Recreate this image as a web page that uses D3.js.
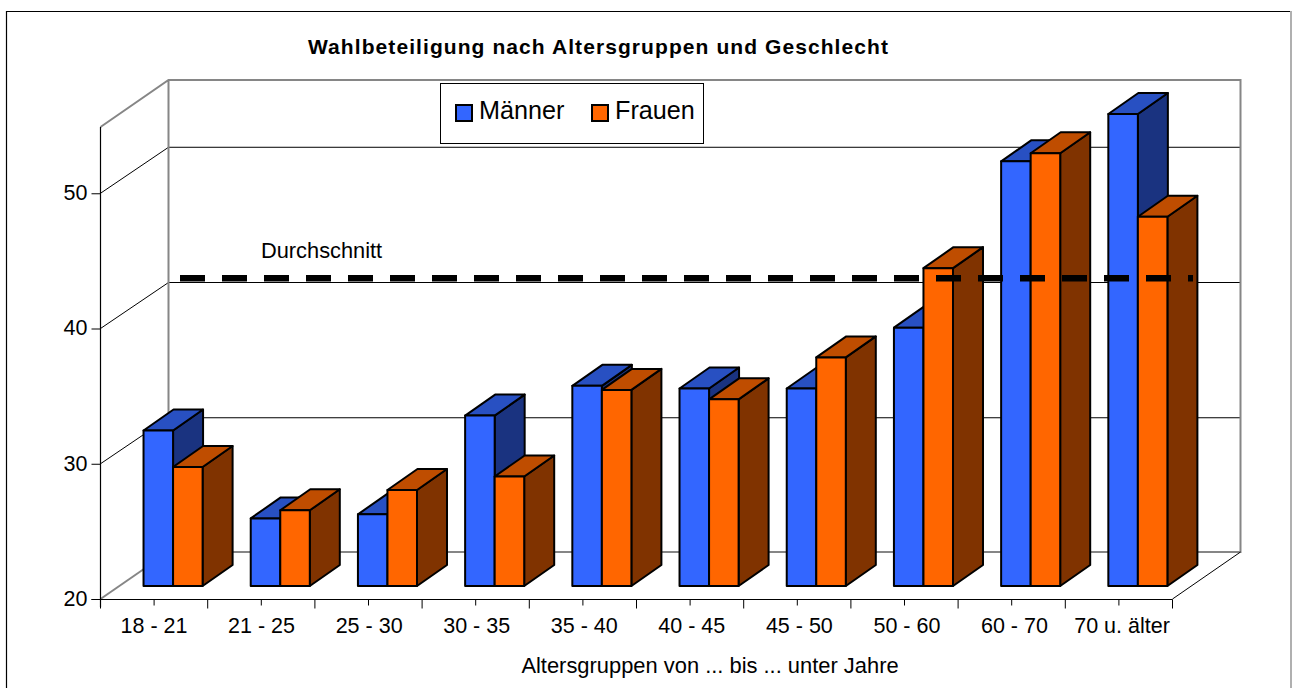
<!DOCTYPE html>
<html><head><meta charset="utf-8">
<script src="https://cdn.jsdelivr.net/npm/d3@7"></script>
<style>html,body{margin:0;padding:0;background:#fff}svg{display:block}text{font-family:"Liberation Sans",Arial,sans-serif;fill:#000}</style>
</head><body><svg id="c" width="1292" height="688"></svg>
<script>
const categories=["18 - 21","21 - 25","25 - 30","30 - 35","35 - 40","40 - 45","45 - 50","50 - 60","60 - 70","70 u. älter"];
const maenner=[31.5,25.0,25.3,32.6,34.8,34.6,34.6,39.1,51.4,54.9];
const frauen=[28.8,25.6,27.1,28.1,34.5,33.8,36.9,43.5,52.0,47.3];
const durchschnitt=[42.75,42.75,42.75,42.75,42.75,42.75,42.75,42.75,42.75,42.75];
const seriesNames=["Männer","Frauen"];
const yTicks=[20,30,40,50];

const svg=d3.select("#c");
const x0=100.5,x1=1172.5,yB=599,yT=127,wallDx=68,wallDy=-47,gridDy=-46;
const barPlaneDy=-13,barDx=30,barDy=-21;
const palette=[{face:"#3366FF",top:"#2850C2",side:"#1A3380"},{face:"#FF6600",top:"#BF4D00",side:"#803300"}];
const y=d3.scaleLinear().domain([20,54.9]).range([yB,yT]);
const xAxisScale=d3.scaleBand().domain(categories).range([x0,x1]);
const xLabel=d3.scalePoint().domain(categories).range([154,1122]);
const xGroup=d3.scaleBand().domain(categories).range([x0,x1]).paddingInner(0.449).paddingOuter(0.2245).align(0.894);
const xSeries=d3.scaleBand().domain(seriesNames).range([0,xGroup.bandwidth()]);
const xLine=d3.scalePoint().domain(categories).range([180,1193]);

// frame
svg.append("path").attr("d","M6.5,688V11.5H1291").attr("fill","none").attr("stroke","#000").attr("stroke-width",1.2);
svg.append("line").attr("x1",1291).attr("x2",1291).attr("y1",11).attr("y2",688).attr("stroke","#b0b0b0").attr("stroke-width",2);

// title
svg.append("text").attr("x",598.5).attr("y",54).attr("text-anchor","middle").attr("font-weight","bold").attr("font-size",21).attr("letter-spacing",1.08).text("Wahlbeteiligung nach Altersgruppen und Geschlecht");

// walls
const gray="#868686";
const wall=svg.append("g");
yTicks.filter(v=>v>20).forEach(v=>{
  wall.append("path").attr("d",`M${x0},${y(v)}L${x0+wallDx},${y(v)+gridDy}H${x1+wallDx}`).attr("fill","none").attr("stroke","#000").attr("stroke-width",1);
});
wall.append("path").attr("d",`M${x0},${yT}L${x0+wallDx},${yT+wallDy}H${x1+wallDx}V${yB+wallDy}H${x0+wallDx}V${yT+wallDy}`).attr("fill","none").attr("stroke",gray).attr("stroke-width",2);
wall.append("line").attr("x1",x0).attr("y1",yB).attr("x2",x0+wallDx).attr("y2",yB+wallDy).attr("stroke",gray).attr("stroke-width",2);
wall.append("line").attr("x1",x1).attr("y1",yB).attr("x2",x1+wallDx).attr("y2",yB+wallDy).attr("stroke","#000").attr("stroke-width",1);

// axes
const axL=svg.append("g").attr("transform",`translate(${x0},0)`).call(d3.axisLeft(y).tickValues(yTicks).tickSize(9).tickPadding(4).tickFormat(d3.format("d")));
axL.select(".domain").attr("stroke","#000").attr("stroke-width",1.2).attr("d",`M0,${yT}V${yB+8}`);
axL.selectAll("text").attr("font-size",21.5).style("font-family",'"Liberation Sans"').attr("dy","0.3em");
const axB=svg.append("g").attr("transform",`translate(0,${yB+0.5})`).call(d3.axisBottom(xAxisScale).tickSize(6).tickPadding(12.5));
axB.select(".domain").attr("stroke","#000").attr("stroke-width",1.2).attr("d",`M${x0-9},0H${x1}`);
axB.selectAll("text").attr("font-size",21.5).style("font-family",'"Liberation Sans"').attr("dy","0.71em")
  .attr("x",d=>xLabel(d)-(xAxisScale(d)+xAxisScale.bandwidth()/2));
const edges=xAxisScale.domain().map(c=>xAxisScale(c)+xAxisScale.bandwidth()).concat([x0]);
axB.selectAll(".edge").data(edges).join("line").attr("class","edge").attr("x1",d=>d).attr("x2",d=>d).attr("y1",0).attr("y2",9).attr("stroke","#000");

// bars
const rows=categories.map((c,i)=>({c,vals:[maenner[i],frauen[i]]}));
const groups=svg.selectAll("g.grp").data(rows).join("g").attr("class","grp");
groups.each(function(r){
  const g=d3.select(this);
  r.vals.forEach((v,k)=>{
    const p=palette[k];
    const l=xGroup(r.c)+xSeries(seriesNames[k]),w=xSeries.bandwidth();
    const b=y(20)+barPlaneDy,t=y(v)+barPlaneDy,rr=l+w;
    const st={stroke:"#000","stroke-width":2,"stroke-linejoin":"round"};
    const add=(d,f)=>{const e=g.append("path").attr("d",d).attr("fill",f);Object.entries(st).forEach(([a,b])=>e.attr(a,b));};
    add(`M${rr},${t}l${barDx},${barDy}V${b+barDy}L${rr},${b}Z`,p.side);
    add(`M${l},${t}l${barDx},${barDy}H${rr+barDx}L${rr},${t}Z`,p.top);
    add(`M${l},${t}H${rr}V${b}H${l}Z`,p.face);
  });
});

// average line
const line=d3.line().x(d=>xLine(d.c)).y(d=>y(d.v)+barPlaneDy);
svg.append("path").datum(categories.map((c,i)=>({c,v:durchschnitt[i]}))).attr("d",line).attr("fill","none").attr("stroke","#000").attr("stroke-width",6.5).attr("stroke-dasharray","25,17");
svg.append("text").attr("x",261).attr("y",258).attr("font-size",21.8).text("Durchschnitt");

// axis title
svg.append("text").attr("x",710).attr("y",673).attr("text-anchor","middle").attr("font-size",21.9).text("Altersgruppen von ... bis ... unter Jahre");

// legend
svg.append("rect").attr("x",440.5).attr("y",83.5).attr("width",263).attr("height",60).attr("fill","#fff").attr("stroke","#000").attr("stroke-width",1);
const lx=[456,592];
seriesNames.forEach((n,i)=>{
  svg.append("rect").attr("x",lx[i]).attr("y",105).attr("width",16).attr("height",16).attr("fill",palette[i].face).attr("stroke","#000").attr("stroke-width",2);
  svg.append("text").attr("x",lx[i]+23).attr("y",119).attr("font-size",25.2).text(n);
});
</script></body></html>
